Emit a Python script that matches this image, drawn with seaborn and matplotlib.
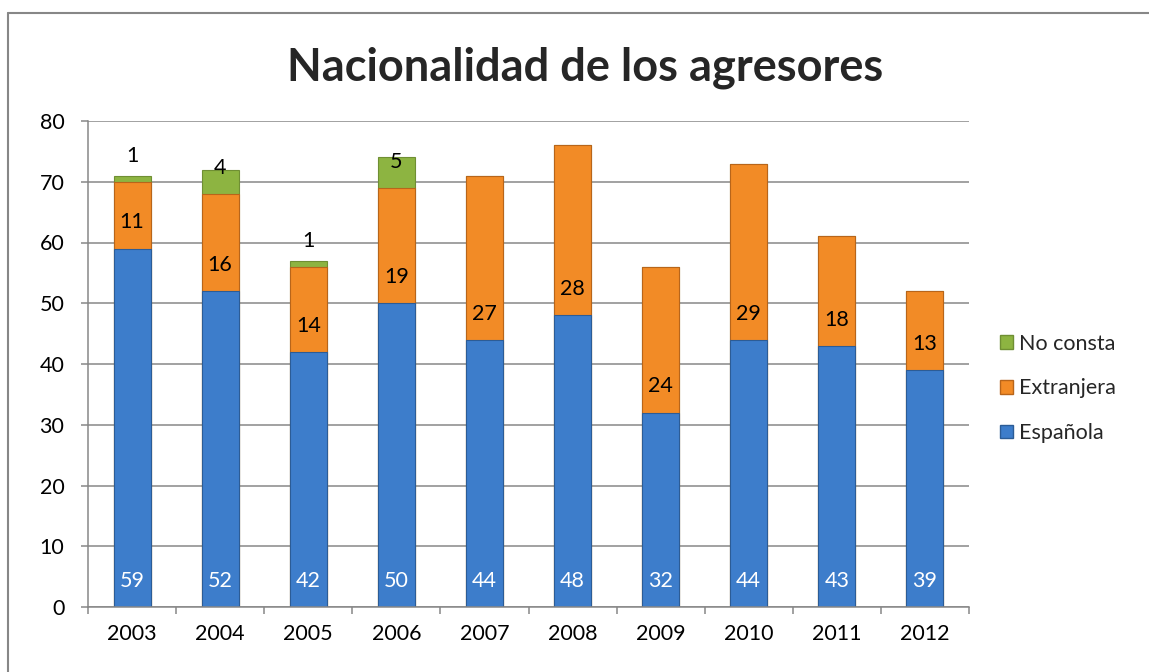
import matplotlib
matplotlib.use("Agg")
import matplotlib.pyplot as plt
from matplotlib.patches import Patch
from matplotlib.lines import Line2D
import numpy as np
import pandas as pd
import seaborn as sns

years = ["2003", "2004", "2005", "2006", "2007", "2008", "2009", "2010", "2011", "2012"]
espanola = [59, 52, 42, 50, 44, 48, 32, 44, 43, 39]
extranjera = [11, 16, 14, 19, 27, 28, 24, 29, 18, 13]
no_consta = [1, 4, 1, 5, 0, 0, 0, 0, 0, 0]

BLUE = "#3D7DCB"
ORANGE = "#F28B26"
GREEN = "#8DB441"
GRID = "#878787"
FS = 15.5

sns.set_theme(style="white")
plt.rcParams['font.family'] = ['Lato', 'DejaVu Sans']

df = pd.DataFrame({'Año': years, 'Española': espanola,
                   'Extranjera': extranjera, 'No consta': no_consta})
df['top_ext'] = df['Española'] + df['Extranjera']
df['top_nc'] = df['top_ext'] + df['No consta']

fig = plt.figure(figsize=(11.49, 6.72), dpi=100)
ax = fig.add_axes([88 / 1149, 65 / 672, 881 / 1149, 486 / 672])

ax.set_axisbelow(True)
ax.yaxis.grid(True, color=GRID, lw=1.1)

# stacked bars: draw cumulative heights from top layer down
layers = [('top_nc', GREEN, '#6f8f33'), ('top_ext', ORANGE, '#b8651a'),
          ('Española', BLUE, '#2c5c96')]
for col, c, ec in layers:
    sns.barplot(data=df, x='Año', y=col, color=c, width=0.42, saturation=1,
                edgecolor=ec, linewidth=0.8, ax=ax)

ax.set_ylim(0, 80)
ax.set_xlim(-0.5, len(years) - 0.5)
ax.set_yticks(range(0, 81, 10))
ax.set_xlabel('')
ax.set_ylabel('')

# data labels sit near the base of each segment
off = 4.3
for i in range(len(years)):
    ax.text(i, off, str(espanola[i]), ha='center', va='center',
            fontsize=FS, color='white')
    ax.text(i, espanola[i] + off, str(extranjera[i]), ha='center', va='center',
            fontsize=FS, color='black')
    if no_consta[i] > 0:
        ax.text(i, df['top_ext'][i] + off, str(no_consta[i]), ha='center',
                va='center', fontsize=FS, color='black')

for s in ['top', 'right']:
    ax.spines[s].set_visible(False)
for s in ['left', 'bottom']:
    ax.spines[s].set_color(GRID)
    ax.spines[s].set_linewidth(1.1)

ax.tick_params(axis='y', length=5, width=1.1, color=GRID, pad=12, labelsize=FS,
               labelcolor='black', left=True)
ax.tick_params(axis='x', which='major', length=0, pad=12, labelsize=FS,
               labelcolor='black')
ax.set_xticks(np.arange(-0.5, len(years), 1.0), minor=True)
ax.tick_params(axis='x', which='minor', length=5, width=1.1, color=GRID,
               bottom=True)

handles = [Patch(facecolor=GREEN, edgecolor='#6f8f33', label='No consta'),
           Patch(facecolor=ORANGE, edgecolor='#b8651a', label='Extranjera'),
           Patch(facecolor=BLUE, edgecolor='#2c5c96', label='Española')]
ax.legend(handles=handles, loc='center left', bbox_to_anchor=(1.035, 0.45),
          frameon=False, fontsize=FS, handlelength=0.6, handleheight=0.6,
          handletextpad=0.3, labelspacing=1.15, borderpad=0, borderaxespad=0)

fig.text(585 / 1149, 1 - 68 / 672, 'Nacionalidad de los agresores',
         ha='center', va='center', fontsize=32.5, fontweight='bold')

# chart-area border (left and top edges visible)
fig.add_artist(Line2D([8 / 1149, 8 / 1149], [0, 1 - 13 / 672],
                      transform=fig.transFigure, color=GRID, lw=1.5))
fig.add_artist(Line2D([8 / 1149, 1], [1 - 13 / 672, 1 - 13 / 672],
                      transform=fig.transFigure, color=GRID, lw=1.5))

fig.savefig('out.png', dpi=100, facecolor='white')
